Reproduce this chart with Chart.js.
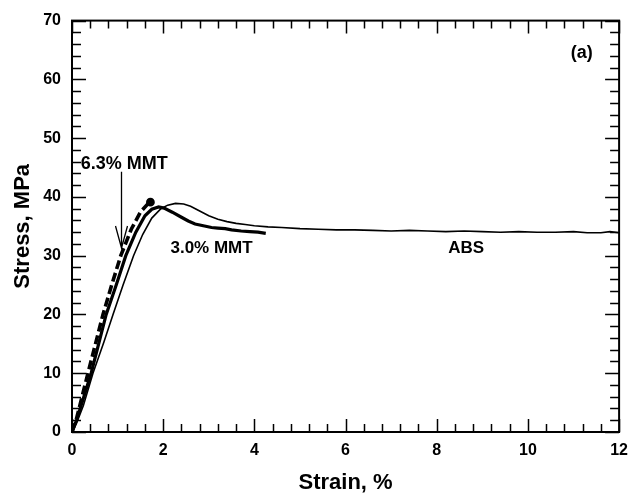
<!DOCTYPE html>
<html>
<head>
<meta charset="utf-8">
<script src="https://cdn.jsdelivr.net/npm/chart.js@4.4.1/dist/chart.umd.min.js"></script>
<style>
html,body{margin:0;padding:0;background:#fff;}
#wrap{width:637px;height:496px;}
</style>
</head>
<body>
<div id="wrap"><canvas id="c" width="637" height="496"></canvas></div>
<script>
// ---- data ----
const absStrain = [0,0.1,0.25,0.46,0.7,0.9,1.12,1.35,1.55,1.75,1.95,2.1,2.27,2.45,2.6,2.8,3.0,3.2,3.4,3.6,3.8,4.0,4.3,4.6,5.0,5.4,5.8,6.2,6.6,7.0,7.4,7.8,8.2,8.6,9.0,9.4,9.8,10.2,10.6,11.0,11.3,11.6,11.8,12.0];
const absStress = [0,1.5,4.5,10,15.3,20,25,30,33.6,36.4,38.0,38.6,38.9,38.8,38.4,37.6,36.8,36.2,35.8,35.5,35.3,35.1,34.9,34.8,34.6,34.5,34.4,34.4,34.3,34.2,34.3,34.2,34.1,34.2,34.1,34.0,34.1,34.0,34.0,34.1,33.9,33.9,34.1,33.9];

const mmt3Strain = [0,0.1,0.42,0.75,0.97,1.18,1.4,1.6,1.75,1.9,2.02,2.2,2.41,2.55,2.7,2.88,3.06,3.2,3.36,3.5,3.71,3.9,4.08,4.25];
const mmt3Stress = [0,2,10,20,25,30,34,36.8,37.9,38.3,38.1,37.4,36.5,35.9,35.4,35.1,34.8,34.7,34.6,34.4,34.2,34.1,34.0,33.8];

const mmt6Strain = [0,0.1,0.35,0.68,0.87,1.07,1.3,1.5,1.65,1.72];
const mmt6Stress = [0,2.3,10,20,25,30,34.5,37.4,38.7,39.1];

const xTickLabels = [0,2,4,6,8,10,12];
const yTickLabels = [0,10,20,30,40,50,60,70];

const labelTexts = ["6.3% MMT","3.0% MMT","ABS","(a)"];
const labelStrain = [0.19,2.16,8.25,10.94];
const labelStress = [44.8,30.4,30.4,64.5];
const arrowStrain = 1.08;
const arrowFrom = 44.3;
const arrowTo = 31.3;
// --------------------------------------

const FONT = "'Liberation Sans', Arial, Helvetica, sans-serif";
function pts(xs, ys){ return xs.map((x,i)=>({x:x,y:ys[i]})); }

const framePlugin = {
  id:'frame',
  afterDatasetsDraw(chart){
    const ctx = chart.ctx, a = chart.chartArea;
    const xs = chart.scales.x, ys = chart.scales.y;
    ctx.save();
    ctx.strokeStyle = '#000';
    ctx.lineWidth = 2;
    ctx.strokeRect(a.left, a.top, a.right-a.left, a.bottom-a.top);
    ctx.lineWidth = 1.5;
    ctx.beginPath();
    for(let i=0;i<=30;i++){
      const v = i*0.4;
      const px = Math.round(xs.getPixelForValue(v))+0.5;
      const major = Math.abs(v/2 - Math.round(v/2))<1e-6;
      const L = major?13:8;
      ctx.moveTo(px,a.bottom); ctx.lineTo(px,a.bottom-L);
      ctx.moveTo(px,a.top); ctx.lineTo(px,a.top+L);
    }
    for(let i=0;i<=35;i++){
      const v = i*2;
      const py = Math.round(ys.getPixelForValue(v))+0.5;
      const major = v%10===0;
      const L = major?14:9;
      ctx.moveTo(a.left,py); ctx.lineTo(a.left+L,py);
      ctx.moveTo(a.right,py); ctx.lineTo(a.right-L,py);
    }
    ctx.stroke();

    ctx.fillStyle = '#000';
    ctx.textAlign = 'left';
    for(let i=0;i<labelTexts.length;i++){
      const px = xs.getPixelForValue(labelStrain[i]);
      const py = ys.getPixelForValue(labelStress[i]);
      if(labelTexts[i]==='(a)'){
        ctx.font = 'bold 18px '+FONT;
        ctx.textBaseline='middle';
      } else if(i===0){
        ctx.font = 'bold 18px '+FONT;
        ctx.textBaseline='alphabetic';
      } else {
        ctx.font = 'bold 17px '+FONT;
        ctx.textBaseline='alphabetic';
      }
      ctx.fillText(labelTexts[i], px, py);
    }
    const ax = Math.round(xs.getPixelForValue(arrowStrain))+0.5;
    const ay1 = ys.getPixelForValue(arrowFrom);
    const ay2 = ys.getPixelForValue(arrowTo);
    ctx.lineWidth = 1.3;
    ctx.beginPath();
    ctx.moveTo(ax,ay1); ctx.lineTo(ax,ay2);
    ctx.moveTo(ax-6,ay2-22); ctx.lineTo(ax,ay2); ctx.lineTo(ax+6,ay2-22);
    ctx.stroke();
    ctx.restore();
  }
};

new Chart(document.getElementById('c'), {
  type:'scatter',
  data:{
    datasets:[
      {label:'ABS', data:pts(absStrain,absStress), showLine:true, borderColor:'#000', borderWidth:1.6, pointRadius:0, tension:0},
      {label:'3.0% MMT', data:pts(mmt3Strain,mmt3Stress), showLine:true, borderColor:'#000', borderWidth:3.2, pointRadius:0, tension:0},
      {label:'6.3% MMT', data:pts(mmt6Strain,mmt6Stress), showLine:true, borderColor:'#000', borderWidth:3.6, borderDash:[9,4],
        pointRadius:mmt6Strain.map((v,i)=>i===mmt6Strain.length-1?2.6:0), pointBackgroundColor:'#000', pointBorderColor:'#000', tension:0}
    ]
  },
  options:{
    responsive:false,
    animation:false,
    devicePixelRatio:1,
    layout:{padding:{top:18,right:12,left:0,bottom:0}},
    plugins:{legend:{display:false},tooltip:{enabled:false}},
    scales:{
      x:{
        type:'linear', min:0, max:12,
        afterBuildTicks(s){ s.ticks = xTickLabels.map(v=>({value:v})); },
        afterFit(s){ s.height = 64; },
        grid:{display:false, drawTicks:false},
        border:{display:false},
        ticks:{color:'#000', padding:9, font:{family:FONT, size:16, weight:'bold'}, maxRotation:0, autoSkip:false},
        title:{display:true, text:'Strain, %', color:'#000', font:{family:FONT, size:22, weight:'bold'}, padding:{top:0,bottom:0}}
      },
      y:{
        type:'linear', min:0, max:70,
        afterBuildTicks(s){ s.ticks = yTickLabels.map(v=>({value:v})); },
        afterFit(s){ s.width = 72; },
        grid:{display:false, drawTicks:false},
        border:{display:false},
        ticks:{color:'#000', padding:11, font:{family:FONT, size:16, weight:'bold'}, autoSkip:false},
        title:{display:true, text:'Stress, MPa', color:'#000', font:{family:FONT, size:22, weight:'bold'}, padding:{top:10,bottom:0}}
      }
    }
  },
  plugins:[framePlugin]
});
</script>
</body>
</html>
